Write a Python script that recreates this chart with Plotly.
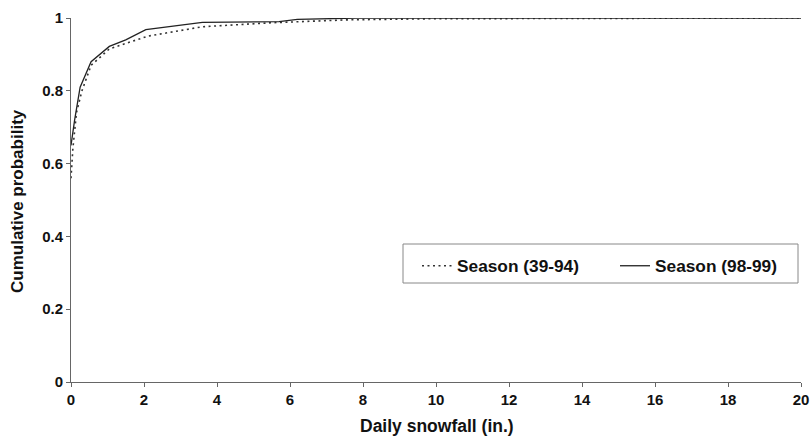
import plotly.graph_objects as go

# Season 1939-94 (dotted)
x_3994 = [0, 0.05, 0.15, 0.3, 0.55, 1.05, 2.1, 3.6, 5.5, 7.6, 10, 14, 20]
y_3994 = [0.56, 0.64, 0.74, 0.80, 0.87, 0.915, 0.95, 0.976, 0.987, 0.995, 0.998, 0.999, 1.0]

# Season 1998-99 (solid)
x_9899 = [0, 0.1, 0.25, 0.55, 1.05, 1.5, 2.05, 3.6, 5.7, 6.2, 7.8, 20]
y_9899 = [0.65, 0.72, 0.81, 0.88, 0.922, 0.94, 0.968, 0.988, 0.99, 0.996, 1.0, 1.0]

x_ticks = [0, 2, 4, 6, 8, 10, 12, 14, 16, 18, 20]
y_ticks = [0, 0.2, 0.4, 0.6, 0.8, 1]
y_tick_text = ["0", "0.2", "0.4", "0.6", "0.8", "1"]

FONT = "Liberation Sans, Arial, sans-serif"
L, R, T, B = 71, 9, 18, 64
PW = 810 - L - R
PH = 446 - T - B

def px_x(px):
    return (px - L) / PW

def px_y(py):
    return (446 - B - py) / PH

fig = go.Figure()
fig.add_trace(go.Scatter(
    x=x_3994, y=y_3994, mode="lines", name="Season (39-94)", legendwidth=153,
    line=dict(color="#333333", width=1.6, dash="2px,3.5px"), cliponaxis=False))
fig.add_trace(go.Scatter(
    x=x_9899, y=y_9899, mode="lines", name="Season (98-99)", legendwidth=122,
    line=dict(color="#222222", width=1.3), cliponaxis=False))

axis_common = dict(
    showgrid=False, zeroline=False, showline=True, linecolor="#666666", linewidth=1,
    ticks="outside", ticklen=4, tickcolor="#666666", automargin=False,
    tickfont=dict(family=FONT, size=15, color="#111111", weight="bold"),
)

fig.update_xaxes(range=[0, 20], tickvals=x_ticks, **axis_common)
fig.update_yaxes(range=[0, 1], tickvals=y_ticks, ticktext=y_tick_text, **axis_common)

fig.update_layout(
    width=810, height=446, autosize=False,
    margin=dict(l=L, r=R, t=T, b=B),
    paper_bgcolor="white", plot_bgcolor="white",
    showlegend=True,
    legend=dict(
        orientation="h", x=px_x(417), y=px_y(248), xanchor="left", yanchor="top",
        bgcolor="rgba(0,0,0,0)", borderwidth=0,
        font=dict(family=FONT, size=17.3, color="#111111", weight="bold"),
        itemwidth=30,
    ),
    shapes=[dict(
        type="rect", xref="paper", yref="paper",
        x0=px_x(403), x1=px_x(798), y0=px_y(283), y1=px_y(244),
        line=dict(color="#888888", width=1), fillcolor="rgba(0,0,0,0)",
    )],
    annotations=[
        dict(text="Cumulative probability", xref="paper", yref="paper",
             x=px_x(17), y=px_y(201), xanchor="center", yanchor="middle",
             textangle=-90, showarrow=False,
             font=dict(family=FONT, size=17, color="#111111", weight="bold")),
        dict(text="Daily snowfall (in.)", xref="paper", yref="paper",
             x=px_x(437), y=px_y(426), xanchor="center", yanchor="middle",
             showarrow=False,
             font=dict(family=FONT, size=17.5, color="#111111", weight="bold")),
    ],
)

fig.write_html(
    "out.html",
    config={"responsive": False, "displayModeBar": False},
    default_width="810px", default_height="446px",
    post_script="document.body.style.margin='0';document.body.style.overflow='hidden';",
)
